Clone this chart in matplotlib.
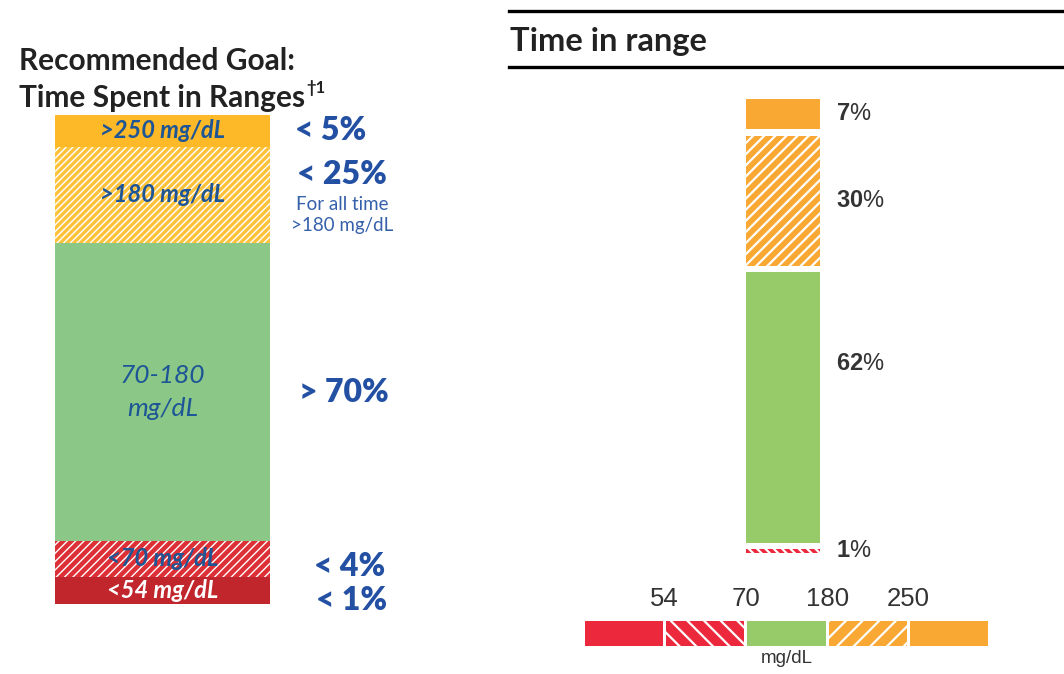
import matplotlib
matplotlib.use("Agg")
import matplotlib.pyplot as plt
from matplotlib.lines import Line2D

# ---- data ----
# left panel: recommended goal bands, bottom to top (drawn band size, not to scale)
goal_labels = ['<54 mg/dL', '<70 mg/dL', '70-180\nmg/dL', '>180 mg/dL', '>250 mg/dL']
goal_targets = ['< 1%', '< 4%', '> 70%', '< 25%', '< 5%']
goal_sizes = [27, 36, 298, 96, 32]

# right panel: time in range, bottom to top (<54 is 0% and not drawn)
tir_values = [1, 62, 30, 7]
tir_labels = ['1', '62', '30', '7']

# colour key under the right bar
key_thresholds = ['54', '70', '180', '250']

W, H = 1064, 674
plt.rcParams['mathtext.fontset'] = 'custom'
plt.rcParams['mathtext.bf'] = 'Liberation Sans:bold'
plt.rcParams['mathtext.rm'] = 'Liberation Sans'

fig = plt.figure(figsize=(W / 100, H / 100), dpi=100)
fig.patch.set_facecolor('white')


def px(x, y):
    return x / W, 1 - y / H


def hatch_lw(bars, lw):
    # per-bar hatch width if this matplotlib has it
    for b in bars:
        if hasattr(b, 'set_hatch_linewidth'):
            b.set_hatch_linewidth(lw)


BLUE = '#1d5596'
TBLUE = '#2350a3'
DARK = '#222222'

# ---------------- left panel ----------------
fig.text(*px(19, 61), 'Recommended Goal:', fontsize=21.5, fontweight='bold',
         family='Lato', color=DARK, va='center')
t2 = fig.text(*px(19, 98), 'Time Spent in Ranges', fontsize=21.5, fontweight='bold',
              family='Lato', color=DARK, va='center')
fig.canvas.draw()
bb = t2.get_window_extent()
fig.text(bb.x1 / W + 0.001, bb.y1 / H + 0.006, '\u20201', fontsize=12,
         fontweight='bold', family='Lato', color=DARK, va='top', ha='left')

plt.rcParams['hatch.linewidth'] = 1.0
axl = fig.add_axes([55 / W, 1 - 604 / H, 215 / W, 489 / H])
axl.set_xlim(0, 1)
axl.set_ylim(0, sum(goal_sizes))
axl.axis('off')

left_faces = ['#c1262c', '#dc3036', '#8bc887', '#fdc23a', '#fdb927']
left_hatch = [None, '////', None, '/////', None]
label_colors = ['white', BLUE, BLUE, BLUE, BLUE]
target_dy = [-10, -8, 0, 20, 0]
target_x = [352, 350, 344, 342, 331]

bottom = 0
for i, h in enumerate(goal_sizes):
    bars = axl.bar(0.5, h, width=1, bottom=bottom, color=left_faces[i],
                   hatch=left_hatch[i],
                   edgecolor='white' if left_hatch[i] else left_faces[i], linewidth=0)
    hatch_lw(bars, 1.0)
    mid = bottom + h / 2
    if i == 2:
        axl.text(0.5, mid, goal_labels[i], ha='center', va='center', fontsize=19,
                 style='italic', family='Lato', color=label_colors[i], linespacing=1.5)
    else:
        axl.text(0.5, mid, goal_labels[i], ha='center', va='center', fontsize=17,
                 style='italic', fontweight='bold', family='Lato', color=label_colors[i])
    axl.text((target_x[i] - 55) / 215, mid + target_dy[i], goal_targets[i],
             ha='center', va='center', fontsize=23, fontweight='heavy', family='Lato',
             color=TBLUE, clip_on=False)
    bottom += h

axl.text((342 - 55) / 215, 389, 'For all time\n>180 mg/dL', ha='center', va='center',
         fontsize=13.5, family='Lato', color='#3560aa', clip_on=False, linespacing=1.3)

# ---------------- right panel ----------------
fig.add_artist(Line2D([509 / W, 1], [1 - 11 / H] * 2, color='black', lw=2.4))
fig.add_artist(Line2D([509 / W, 1], [1 - 67 / H] * 2, color='black', lw=2.4))
fig.text(*px(510, 42), 'Time in range', fontsize=23.5, fontweight='bold',
         family='Lato', color=DARK, va='center')

plt.rcParams['hatch.linewidth'] = 1.6
RED = '#ec293c'
GREEN = '#97ca69'
ORANGE = '#f8a833'
gap = 1.4
axr = fig.add_axes([746 / W, 1 - 553 / H, 74 / W, 454 / H])
axr.set_xlim(0, 1)
axr.set_ylim(0, sum(tir_values) + gap * (len(tir_values) - 1))
axr.axis('off')

right_faces = [RED, GREEN, ORANGE, ORANGE]
right_hatch = ['\\\\\\\\', None, '///', None]
label_at = [0.5, 0.66, 0.5, 0.5]
bottom = 0
for i, v in enumerate(tir_values):
    bars = axr.bar(0.5, v, width=1, bottom=bottom, color=right_faces[i],
                   hatch=right_hatch[i],
                   edgecolor='white' if right_hatch[i] else right_faces[i], linewidth=0)
    hatch_lw(bars, 1.6)
    axr.text(1.22, bottom + v * label_at[i], r'$\mathbf{' + tir_labels[i] + '}$%',
             ha='left', va='center', fontsize=17, family='Liberation Sans',
             color='#333333', clip_on=False)
    bottom += v + gap

# colour key
axk = fig.add_axes([585 / W, 1 - 646 / H, 403 / W, 25 / H])
key_faces = [RED, RED, GREEN, ORANGE, ORANGE]
key_hatch = [None, '\\\\', None, '//', None]
for i in range(len(key_faces)):
    bars = axk.bar(i, 1, width=0.963, color=key_faces[i], hatch=key_hatch[i],
                   edgecolor='white' if key_hatch[i] else key_faces[i], linewidth=0)
    hatch_lw(bars, 1.6)
axk.set_xlim(-0.4815, len(key_faces) - 0.5185)
axk.set_ylim(0, 1)
for s in axk.spines.values():
    s.set_visible(False)
axk.set_yticks([])
axk.xaxis.tick_top()
axk.set_xticks([i + 0.5 for i in range(len(key_thresholds))])
axk.set_xticklabels(key_thresholds, fontsize=18.5, family='Liberation Sans', color='#333333')
axk.tick_params(axis='x', length=0, pad=7)
axk.xaxis.set_label_position('bottom')
axk.set_xlabel('mg/dL', fontsize=13.5, family='Liberation Sans', color='#333333', labelpad=3)

fig.savefig('out.png', dpi=100, facecolor='white')
